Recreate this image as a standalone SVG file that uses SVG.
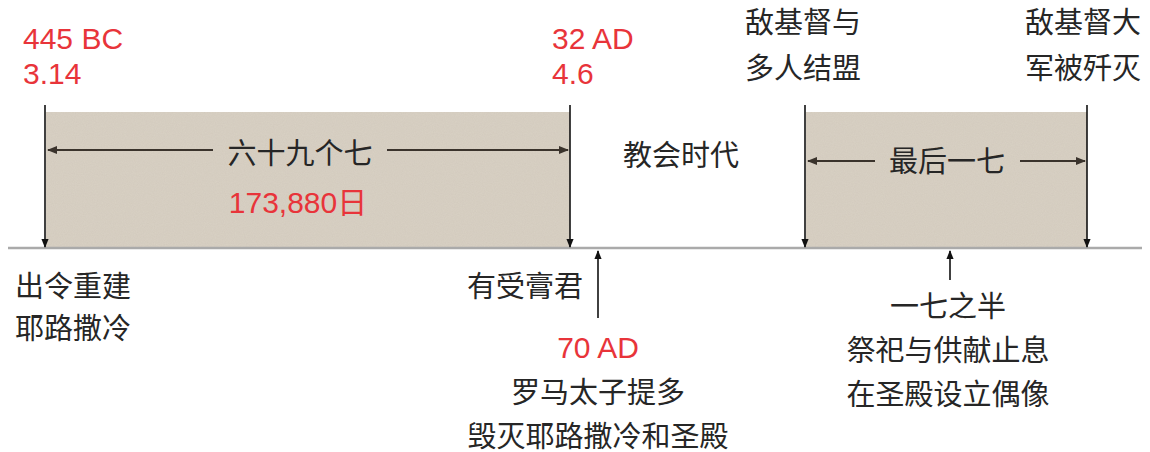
<svg xmlns="http://www.w3.org/2000/svg" width="1150" height="452" viewBox="0 0 1150 452">
<style>
.t{font-family:"Liberation Sans","Noto Sans CJK SC",sans-serif;font-size:29px;fill:#262626}
.r{font-family:"Liberation Sans","Noto Sans CJK SC",sans-serif;font-size:30px;fill:#e8343a}
.m{text-anchor:middle}
.v{stroke:#111;stroke-width:1.6;fill:none}
.h{stroke:#3a332c;stroke-width:2.2;fill:none}
.box{fill:#d9d1c4}
</style>
<defs>
<marker id="ah" viewBox="0 0 10 10" refX="9" refY="5" markerWidth="9" markerHeight="9" markerUnits="userSpaceOnUse" orient="auto"><path d="M0,1 L10,5 L0,9 Z" fill="#111"/></marker>
<marker id="ah2" viewBox="0 0 10 10" refX="9" refY="5" markerWidth="10" markerHeight="10" markerUnits="userSpaceOnUse" orient="auto"><path d="M0,1 L10,5 L0,9 Z" fill="#3a332c"/></marker>
<filter id="grain" x="0" y="0" width="100%" height="100%">
<feTurbulence type="fractalNoise" baseFrequency="0.9" numOctaves="2" seed="3" result="n"/>
<feColorMatrix in="n" type="matrix" values="0 0 0 0 0.55  0 0 0 0 0.5  0 0 0 0 0.44  0 0 0 0.35 0" result="c"/>
<feComposite in="c" in2="SourceGraphic" operator="in" result="g"/>
<feMerge><feMergeNode in="SourceGraphic"/><feMergeNode in="g"/></feMerge>
</filter>
</defs>
<g id="box1"><rect class="box" x="46" y="112" width="524" height="136" filter="url(#grain)"/></g>
<g id="box2"><rect class="box" x="806" y="112" width="281" height="136" filter="url(#grain)"/></g>
<g id="timeline"><line x1="8" y1="248" x2="1142" y2="248" stroke="#aaaaaa" stroke-width="2.5"/></g>
<g id="connectors">
<line class="v" x1="45" y1="105" x2="45" y2="247" marker-end="url(#ah)"/>
<line class="v" x1="570" y1="105" x2="570" y2="247" marker-end="url(#ah)"/>
<line class="v" x1="805" y1="105" x2="805" y2="247" marker-end="url(#ah)"/>
<line class="v" x1="1087" y1="105" x2="1087" y2="247" marker-end="url(#ah)"/>
<line class="v" x1="598" y1="318" x2="598" y2="251" marker-end="url(#ah)"/>
<line class="v" x1="950" y1="280" x2="950" y2="251" marker-end="url(#ah)"/>
<line class="h" x1="213" y1="150" x2="48" y2="150" marker-end="url(#ah2)"/>
<line class="h" x1="387" y1="150" x2="568" y2="150" marker-end="url(#ah2)"/>
<line class="h" x1="875" y1="161" x2="808" y2="161" marker-end="url(#ah2)"/>
<line class="h" x1="1020" y1="161" x2="1085" y2="161" marker-end="url(#ah2)"/>
</g>
<g id="n445"><text class="r" x="23" y="49">445 BC</text><text class="r" x="23" y="84">3.14</text></g>
<g id="n32"><text class="r" x="552" y="49">32 AD</text><text class="r" x="552" y="84">4.6</text></g>
<g id="nalliance"><text class="t" x="745" y="33">敌基督与</text><text class="t" x="745" y="79">多人结盟</text></g>
<g id="ndefeat"><text class="t" x="1025" y="33">敌基督大</text><text class="t" x="1025" y="79">军被歼灭</text></g>
<g id="n69"><text class="t m" x="300" y="164">六十九个七</text><text class="r m" x="298" y="213">173,880日</text></g>
<g id="nchurch"><text class="t m" x="681" y="166">教会时代</text></g>
<g id="nlast"><text class="t m" x="947" y="172">最后一七</text></g>
<g id="ndecree"><text class="t" x="15" y="297">出令重建</text><text class="t" x="15" y="339">耶路撒冷</text></g>
<g id="nanointed"><text class="t" x="583" y="297" text-anchor="end">有受膏君</text></g>
<g id="n70"><text class="r m" x="598" y="358">70 AD</text><text class="t m" x="598" y="403">罗马太子提多</text><text class="t m" x="598" y="447">毁灭耶路撒冷和圣殿</text></g>
<g id="nhalf"><text class="t m" x="948" y="317">一七之半</text><text class="t m" x="948" y="361">祭祀与供献止息</text><text class="t m" x="948" y="405">在圣殿设立偶像</text></g>
</svg>
